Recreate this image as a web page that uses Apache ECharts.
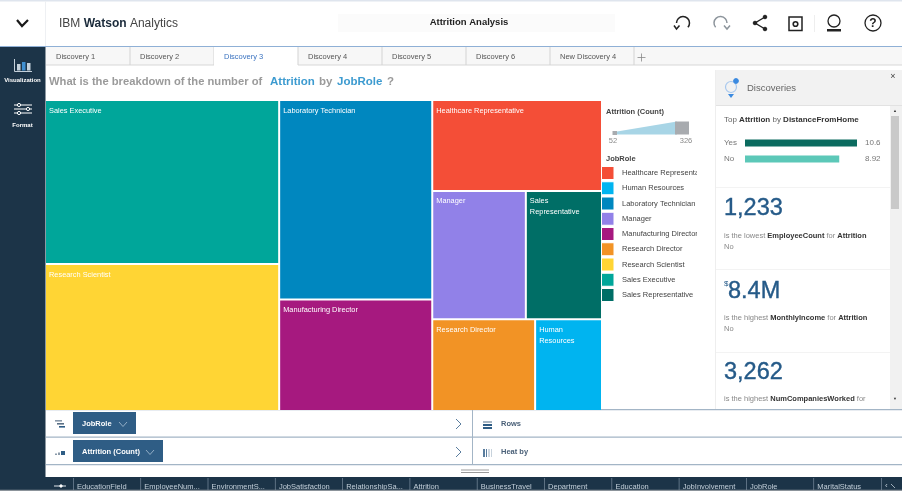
<!DOCTYPE html>
<html>
<head>
<meta charset="utf-8">
<title>Attrition Analysis</title>
<style>
  html, body { margin: 0; padding: 0; background: #fff; }
  #chart { width: 902px; height: 491px; }
</style>
<script src="https://cdn.jsdelivr.net/npm/echarts@6/dist/echarts.min.js"></script>
</head>
<body>
<div id="chart"></div>
<script>
// treemap values
const jobRoles = ['Healthcare Representative', 'Human Resources', 'Laboratory Technician', 'Manager', 'Manufacturing Director', 'Research Director', 'Research Scientist', 'Sales Executive', 'Sales Representative'];
const attritionCount = [131, 52, 259, 102, 145, 80, 292, 326, 83];
const roleColors = ['#f44e37', '#00b4f0', '#0087bf', '#9181e8', '#a6197f', '#f29325', '#ffd534', '#00a69a', '#006e66'];

// discovery card bars
const distanceLabels = ['Yes', 'No'];
const distanceValues = [10.6, 8.92];

// tabs and field strip
const discoveryTabs = ['Discovery 1', 'Discovery 2', 'Discovery 3', 'Discovery 4', 'Discovery 5', 'Discovery 6', 'New Discovery 4'];
const fieldTabs = ['EducationField', 'EmployeeNum...', 'EnvironmentS...', 'JobSatisfaction', 'RelationshipSa...', 'Attrition', 'BusinessTravel', 'Department', 'Education', 'JobInvolvement', 'JobRole', 'MaritalStatus'];

const FONT = '"Liberation Sans", Arial, sans-serif';
const NAVY = '#1c3448';
const STEEL = '#2f5d85';
const BIGBLUE = '#255a88';

const g = [];
function rect(x, y, width, height, fill, extra) {
  g.push({ type: 'rect', shape: { x, y, width, height }, style: Object.assign({ fill }, extra || {}), silent: true });
}
function text(x, y, str, size, fill, extra) {
  g.push({
    type: 'text', x, y, silent: true,
    style: Object.assign({ text: str, fontSize: size, fontFamily: FONT, fill, textVerticalAlign: 'middle' }, extra || {})
  });
}
function line(points, stroke, lineWidth) {
  g.push({ type: 'polyline', shape: { points }, style: { stroke, lineWidth: lineWidth || 1, fill: null }, silent: true });
}
function circle(cx, cy, r, stroke, lineWidth, fill) {
  g.push({ type: 'circle', shape: { cx, cy, r }, style: { stroke, lineWidth, fill: fill || null }, silent: true });
}
function arc(cx, cy, r, startAngle, endAngle, stroke, lineWidth) {
  g.push({ type: 'arc', shape: { cx, cy, r, startAngle, endAngle, clockwise: true }, style: { stroke, lineWidth, fill: null }, silent: true });
}
// text with bold words: pieces is a list of [string, bold]
function mixed(x, y, pieces, size, color, boldColor) {
  const str = pieces.map(p => '{' + (p[1] ? 'b' : 'n') + '|' + p[0] + '}').join('');
  text(x, y, str, size, color, {
    rich: {
      n: { fontSize: size, fontFamily: FONT, fill: color, color },
      b: { fontSize: size, fontFamily: FONT, fontWeight: 'bold', fill: boldColor, color: boldColor }
    }
  });
}

// page frame
rect(0, 0, 902, 1.5, '#dfe5ee');
rect(45, 1, 1, 45, '#eef0f3');
rect(338, 14, 277, 18, '#fbfbfb');
rect(0, 46, 902, 1, '#8fb0d6');
rect(0, 47, 45.5, 444, NAVY);

// header
line([[17, 20], [22, 26], [28, 20]], '#1a1a1a', 2.2);
mixed(59, 24, [['IBM ', false], ['Watson ', true], ['Analytics', false]], 12, '#444', '#1a2a3a');
text(469, 22, 'Attrition Analysis', 9.5, '#222', { fontWeight: 'bold', textAlign: 'center' });

// undo, redo, share, save, user, help
arc(683, 23, 6.5, 3.14, 7.0, '#222', 1.5);
line([[674, 25.5], [676.5, 29], [679.5, 25.5]], '#222', 1.5);
arc(720.5, 23, 6.5, 2.42, 6.28, '#8d959c', 1.5);
line([[724, 25.5], [727, 29], [730, 25.5]], '#8d959c', 1.5);
line([[765, 17], [755, 23], [765, 29]], '#222', 1.4);
circle(765, 17, 1.8, '#222', 1, '#222');
circle(755, 23, 1.8, '#222', 1, '#222');
circle(765, 29, 1.8, '#222', 1, '#222');
rect(789, 17, 13, 13.5, '#fff', { stroke: '#222', lineWidth: 1.5 });
circle(795.5, 24, 2.3, '#222', 1.6);
rect(814, 15, 1, 17, '#eee');
circle(834, 21, 6, '#222', 1.3);
rect(827, 29, 14, 2.5, '#222');
circle(873, 23, 8, '#222', 1.3);
text(873, 23.5, '?', 12, '#222', { fontWeight: 'bold', textAlign: 'center' });

// tab bar
rect(46, 47, 856, 18, '#f7f7f7');
rect(46, 64.5, 856, 1, '#d8d8d8');
discoveryTabs.forEach(function (name, i) {
  const x = 46 + i * 84;
  const active = i === 2;
  if (active) rect(x, 47, 84, 19, '#fff');
  rect(x + 83.5, 47, 1, 18, '#d4d4d4');
  text(x + 10, 56.5, name, 7.5, active ? '#3b73c0' : '#555');
});
line([[637.5, 57.5], [645.5, 57.5]], '#888', 0.8);
line([[641.5, 53.5], [641.5, 61.5]], '#888', 0.8);

// sidebar
line([[14.5, 59], [14.5, 71.5], [32, 71.5]], '#c4d0da', 1);
rect(17, 64, 3.5, 6.5, '#c4d0da');
rect(22, 62, 3.5, 8.5, '#3f8fd0');
rect(27, 63, 3.5, 7.5, '#c4d0da');
text(22.5, 80, 'Visualization', 6, '#fff', { textAlign: 'center', fontWeight: 'bold' });
[105, 109, 113].forEach(function (y, i) {
  line([[14, y], [32, y]], '#fff', 1);
  circle([19, 28, 19][i], y, 1.6, '#fff', 1, NAVY);
});
text(22.5, 125, 'Format', 6, '#fff', { textAlign: 'center', fontWeight: 'bold' });

// question
const Q = { fontWeight: 'bold' };
text(49, 82, 'What is the breakdown of the number of', 11.2, '#9a9a9a', Q);
text(270, 82, 'Attrition', 11.5, '#3d9bd0', Q);
text(319, 82, 'by', 11.5, '#9a9a9a', Q);
text(337, 82, 'JobRole', 11.5, '#3d9bd0', Q);
text(387, 82, '?', 11.5, '#9a9a9a', Q);

// size legend
text(606, 112, 'Attrition (Count)', 7.5, '#444', { fontWeight: 'bold' });
g.push({
  type: 'polygon', silent: true,
  shape: { points: [[614, 132], [677, 121.5], [677, 134.5], [614, 134.5]] },
  style: { fill: '#a8d5e6' }
});
rect(675, 121.5, 14, 13, '#a8abaf');
rect(612.5, 131, 4.5, 4, '#a8abaf');
text(613, 141, String(Math.min.apply(null, attritionCount)), 7.5, '#8a8a8a', { textAlign: 'center' });
text(686, 141, String(Math.max.apply(null, attritionCount)), 7.5, '#8a8a8a', { textAlign: 'center' });

// colour legend, long names are cut by the panel edge
text(606, 159, 'JobRole', 7.5, '#444', { fontWeight: 'bold' });
jobRoles.forEach(function (name, i) {
  const y = 173 + i * 15.25;
  rect(601.5, y - 6.5, 12.5, 13, roleColors[i], { stroke: '#fff', lineWidth: 1 });
  text(622, y, name, 7.5, '#444');
});
rect(697, 165, 18, 140, '#fff');

// discoveries panel
rect(715, 70, 187, 35, '#f2f2f2');
rect(715, 105, 187, 1, '#e2e2e2');
rect(715, 70, 1, 340, '#eeeeee');
circle(731, 87, 5.5, '#a8c8ee', 1.2);
circle(736, 81, 2.4, '#3b8ae0', 1, '#3b8ae0');
g.push({ type: 'polygon', silent: true, shape: { points: [[728, 94], [734, 94], [731, 98]] }, style: { fill: '#3b8ae0' } });
text(747, 88, 'Discoveries', 9.5, '#666');
text(893, 77, '×', 9, '#444', { textAlign: 'center' });
rect(890, 106, 12, 303, '#f1f1f1');
rect(891, 116, 8, 93, '#c9c9c9');
text(895, 110.5, '▲', 4, '#333', { textAlign: 'center' });
text(895, 399, '▼', 4, '#333', { textAlign: 'center' });

mixed(724, 120, [['Top ', false], ['Attrition ', true], ['by ', false], ['DistanceFromHome', true]], 8, '#666', '#333');
distanceValues.forEach(function (v, i) {
  text(865, 143 + i * 16, String(v), 8, '#777');
});
[187, 269, 352].forEach(function (y) { rect(716, y, 174, 1, '#f3f3f3'); });

const BIG = { stroke: BIGBLUE, lineWidth: 0.4 };
text(724, 209, '1,233', 23.5, BIGBLUE, BIG);
mixed(724, 236, [['is the lowest ', false], ['EmployeeCount ', true], ['for ', false], ['Attrition', true]], 7.5, '#888', '#333');
text(724, 247, 'No', 7.5, '#888');
text(724, 284, '$', 8, BIGBLUE);
text(728, 292, '8.4M', 23.5, BIGBLUE, BIG);
mixed(724, 318, [['is the highest ', false], ['MonthlyIncome ', true], ['for ', false], ['Attrition', true]], 7.5, '#888', '#333');
text(724, 329, 'No', 7.5, '#888');
text(724, 373, '3,262', 23.5, BIGBLUE, BIG);
mixed(724, 399, [['is the highest ', false], ['NumCompaniesWorked ', true], ['for', false]], 7.5, '#888', '#333');

// shelf under the treemap
rect(46, 465, 856, 12, '#fff');
rect(46, 409, 856, 1.2, '#a3b5c6');
rect(46, 436.5, 856, 1.2, '#a3b5c6');
rect(46, 464, 856, 1.2, '#a3b5c6');
rect(472, 409, 1, 56, '#a3b5c6');
rect(73, 412, 63, 22, STEEL);
text(82, 423.5, 'JobRole', 7.5, '#fff', { fontWeight: 'bold' });
line([[119, 422], [123, 426.5], [127, 422]], '#9db6cc', 0.9);
rect(73, 440, 90, 22, STEEL);
text(82, 451.5, 'Attrition (Count)', 7.5, '#fff', { fontWeight: 'bold' });
line([[146, 450], [150, 454.5], [154, 450]], '#9db6cc', 0.9);
line([[456, 419], [461, 424], [456, 429]], '#5a7d9e', 1);
line([[456, 447], [461, 452], [456, 457]], '#5a7d9e', 1);
rect(55, 420, 7, 1.6, '#8a9aaa');
rect(57, 423, 7, 1.6, '#5a7086');
rect(59, 426, 6, 1.6, STEEL);
rect(55, 453.5, 2, 1.5, '#8a9aaa');
rect(58, 452.5, 2, 2.5, '#8a9aaa');
rect(61, 451, 4, 4, STEEL);
rect(483, 421, 9, 2, '#a9b7c4');
rect(483, 424, 9, 2, STEEL);
rect(483, 427, 9, 2, STEEL);
[483, 486, 488.5, 491].forEach(function (x, i) {
  rect(x, 449, i === 0 ? 2 : 1, 8, ['#5a7d9e', '#5a7d9e', '#9db0c2', '#c7d2dc'][i]);
});
text(501, 423.5, 'Rows', 7.5, '#4a6078', { fontWeight: 'bold' });
text(501, 451.5, 'Heat by', 7.5, '#4a6078', { fontWeight: 'bold' });
rect(461, 469.5, 28, 1, '#9a9a9a');
rect(461, 472, 28, 1, '#9a9a9a');

// field strip
rect(45, 477, 857, 14, NAVY);
fieldTabs.forEach(function (name, i) {
  const x = 73 + i * 67.3;
  rect(x, 478, 0.8, 12, '#6e8193');
  text(x + 4, 486.5, name, 7.5, '#c3cfd9');
});
rect(881, 478, 0.8, 12, '#6e8193');
text(885, 486, '‹', 8, '#c3cfd9');
line([[891, 484], [895, 488]], '#c3cfd9', 0.8);
line([[54, 486], [66, 486]], '#dfe5ea', 1);
circle(61, 486, 1.2, '#fff', 1, '#fff');
rect(0, 489.7, 902, 1.3, '#8c949b');

const chart = echarts.init(document.getElementById('chart'));
chart.setOption({
  animation: false,
  backgroundColor: '#fff',
  graphic: { elements: g },
  grid: { left: 745, top: 135, width: 112, height: 32, containLabel: false },
  xAxis: { type: 'value', min: 0, max: 10.6, show: false },
  yAxis: {
    type: 'category', data: distanceLabels, inverse: true,
    axisLine: { show: false }, axisTick: { show: false }, splitLine: { show: false },
    axisLabel: { color: '#777', fontSize: 8, fontFamily: FONT, align: 'left', margin: 21 }
  },
  series: [
    {
      type: 'treemap',
      left: 46, top: 101, width: 555, height: 309,
      roam: false, nodeClick: false, silent: true,
      squareRatio: 1,
      breadcrumb: { show: false },
      label: {
        show: true, position: [3, 4], padding: 0, color: '#fff',
        fontSize: 7.4, fontFamily: FONT, overflow: 'break', lineHeight: 11
      },
      upperLabel: { show: false },
      itemStyle: { borderWidth: 0, gapWidth: 2, borderColor: '#fff' },
      data: jobRoles.map(function (name, i) {
        const item = { name, value: attritionCount[i], itemStyle: { color: roleColors[i] } };
        // these two boxes wrap earlier in the reference than the font here would
        if (name === 'Human Resources' || name === 'Sales Representative') {
          item.label = { formatter: name.replace(' ', '\n') };
        }
        return item;
      })
    },
    {
      type: 'bar',
      data: distanceValues.map(function (v, i) {
        return { value: v, itemStyle: { color: i === 0 ? '#0b6b5f' : '#5cc8b8' } };
      }),
      barWidth: 7,
      silent: true
    }
  ]
});
</script>
</body>
</html>
